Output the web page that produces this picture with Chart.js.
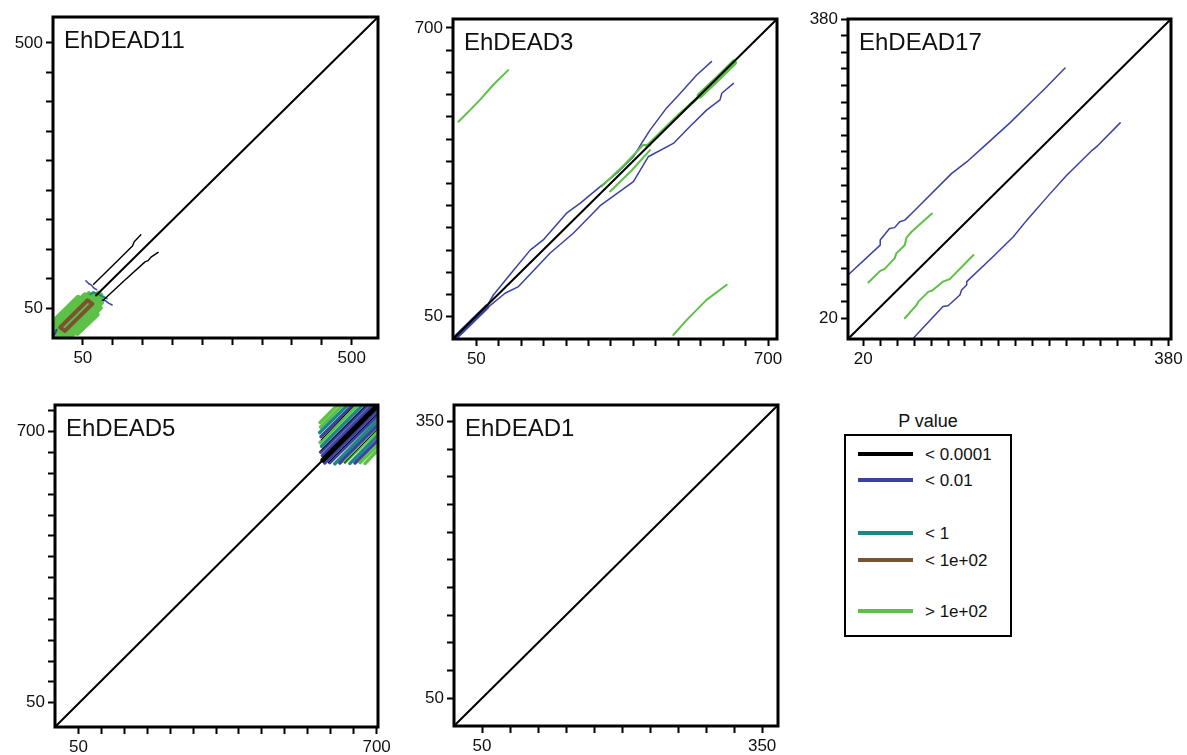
<!DOCTYPE html>
<html>
<head>
<meta charset="utf-8">
<script src="https://cdn.jsdelivr.net/npm/chart.js@4.4.1/dist/chart.umd.min.js"></script>
<style>
  body{margin:0;background:#fff;width:1187px;height:755px;position:relative;overflow:hidden;font-family:"Liberation Sans",Arial,sans-serif;color:#111}
  canvas{position:absolute}
  .abs{position:absolute;white-space:nowrap}
  #legTitle{left:844px;width:168px;top:412px;text-align:center;font-size:18px;line-height:18px}
  #legBox{left:844px;top:434px;width:168px;height:203px;border:2px solid #000;box-sizing:border-box}
  .sw{left:858px;width:55px;height:4px}
  .lt{left:925px;font-size:17px;line-height:17px}
</style>
</head>
<body>
<div id="legTitle" class="abs">P value</div>
<div id="legBox" class="abs"></div>
<script>
// P value classes and their colours
const pClasses=['< 0.0001','< 0.01','< 1','< 1e+02','> 1e+02'];
const pColors=['#000000','#3a42a0','#1b8884','#7a5431','#5dc148'];

const panelNames=['EhDEAD11','EhDEAD3','EhDEAD17','EhDEAD5','EhDEAD1'];
const xMin=[0,-2,2,-1,20], xMax=[544,720,383,703,367];
const yMin=[0,0,-5,-8,20], yMax=[544,720,380,764,368];
const xTicks=[
  [50,100,150,200,250,300,350,400,450,500],
  [50,100,150,200,250,300,350,400,450,500,550,600,650,700],
  [20,40,60,80,100,120,140,160,180,200,220,240,260,280,300,320,340,360,380],
  [50,100,150,200,250,300,350,400,450,500,550,600,650,700],
  [50,80,110,140,170,200,230,260,290,320,350]
];
const yTicks=[
  [50,100,150,200,250,300,350,400,450,500],
  [50,100,150,200,250,300,350,400,450,500,550,600,650,700],
  [20,40,60,80,100,120,140,160,180,200,220,240,260,280,300,320,340,360,380],
  [50,100,150,200,250,300,350,400,450,500,550,600,650,700,750],
  [50,80,110,140,170,200,230,260,290,320,350]
];
const tickLabels=[[50,500],[50,700],[20,380],[50,700],[50,350]];

// EhDEAD11
const d11Diag=[[72,72],[544,544]];
const d11ArmUp=[[68,91],[100,123],[133,156],[136,163],[147,175]];
const d11ArmLow=[[84,64],[120,98],[154,129],[159,131],[164,137],[176,145]];
const d11Green=[[2,29,42,69],[1,21,53,73],[3,17,60,75],[2,9,67,75],[3,3,76,76],[8,1,80,73],[15,1,82,67],[22,2,81,60],[30,3,79,51],[41,8,74,40]];
const d11Brown=[[12,18],[58,64],[66,58],[20,12],[12,18]];
const d11Teal=[[62,74],[68,77],[74,75],[82,71],[90,67]];
const d11Blue1=[[55,97],[60,92],[64,90],[68,85],[73,82]];
const d11Blue2=[[82,64],[88,63],[93,59],[99,56]];
const d11Blue3=[[0,3],[3,7],[6,14]];

// EhDEAD3
const d3Diag=[[-2,0],[720,720]];
const d3BlueCore=[[0,0],[73,72]];
const d3BlueUp=[[2,2],[73,73],[88,99],[121,140],[170,200],[199,223],[251,283],[281,305],[326,343],[363,373],[400,410],[418,440],[437,470],[474,520],[500,548],[541,594],[574,624]];
const d3BlueLow=[[2,0],[73,69],[114,103],[144,118],[214,193],[266,238],[326,300],[400,354],[433,410],[489,440],[526,478],[563,515],[593,538],[597,553],[623,575]];
const d3GreenTL=[[10,489],[36,515],[58,538],[88,572],[121,605]];
const d3GreenBR=[[489,9],[519,43],[563,88],[608,122]];
const d3GreenA=[[329,343],[380,392],[422,437],[437,436]];
const d3GreenB=[[348,332],[395,378],[437,425]];
const d3GreenDiag=[[430,434],[500,503],[548,547]];
const d3GreenBlob=[[548,548],[590,588],[624,622]];

// EhDEAD17
const d17Diag=[[2,-5],[383,380]];
const d17BlueUp=[[2,72],[40,108],[40,114],[51,128],[57,129],[63,136],[69,138],[77,146],[124,194],[142,208],[166,230],[193,255],[225,287],[235,297],[258,321]];
const d17BlueLow=[[79,-4],[114,34],[120,35],[134,48],[136,54],[142,60],[142,64],[173,94],[197,118],[213,138],[237,166],[260,192],[290,222],[297,228],[323,255]];
const d17GreenUp=[[26,63],[40,77],[45,79],[57,92],[59,98],[69,108],[71,117],[77,124],[101,146]];
const d17GreenLow=[[69,20],[83,36],[85,40],[97,52],[101,53],[114,64],[122,67],[150,96]];

// EhDEAD5
const d5Diag=[[-1,-8],[703,764]];
const d5Core=[[583,632],[703,764]];
const d5Strands=[[577,722,613,762],[578,711,624,762],[576,698,635,762],[579,688,646,762],[577,674,657,762],[580,665,668,762],[578,651,679,762],[582,643,690,762],
  [587,625,701,750],[598,626,701,738],[609,623,701,726],[620,625,701,714],[631,627,701,702],[642,624,701,690],[653,625,701,678],[664,626,701,666],[675,624,701,654]];
const d5StrandCls=[4,4,2,1,4,2,1,1,1,1,2,1,4,2,1,4,4];
const d5Thin=[[579,655,676,762],[594,625,701,742],[579,680,650,762],[630,625,701,705]];

// EhDEAD1
const d1Diag=[[20,20],[367,368]];

const segs=(list)=>list.map(s=>[[s[0],s[1]],[s[2],s[3]]]);

// traces listed bottom-to-top
const panelTraces=[
  [
    ...segs(d11Green).map(p=>({pts:p,cls:4,w:5})),
    {pts:d11Brown,cls:3,w:4},
    {pts:d11Teal,cls:2,w:2},
    {pts:d11Blue1,cls:1,w:1.5},{pts:d11Blue2,cls:1,w:1.5},{pts:d11Blue3,cls:1,w:2},
    {pts:d11ArmUp,cls:0,w:1.4},{pts:d11ArmLow,cls:0,w:1.4},
    {pts:d11Diag,cls:0,w:2}
  ],
  [
    {pts:d3BlueCore,cls:1,w:5},
    {pts:d3BlueUp,cls:1,w:1.5},{pts:d3BlueLow,cls:1,w:1.5},
    {pts:d3GreenTL,cls:4,w:2},{pts:d3GreenBR,cls:4,w:2},
    {pts:d3GreenA,cls:4,w:2},{pts:d3GreenB,cls:4,w:2},
    {pts:d3GreenDiag,cls:4,w:3},{pts:d3GreenBlob,cls:4,w:6},
    {pts:d3Diag,cls:0,w:2}
  ],
  [
    {pts:d17BlueUp,cls:1,w:1.5},{pts:d17BlueLow,cls:1,w:1.5},
    {pts:d17GreenUp,cls:4,w:2},{pts:d17GreenLow,cls:4,w:2},
    {pts:d17Diag,cls:0,w:2}
  ],
  [
    ...segs(d5Strands).map((p,k)=>({pts:p,cls:d5StrandCls[k],w:3.5})),
    ...segs(d5Thin).map(p=>({pts:p,cls:0,w:1})),
    {pts:d5Diag,cls:0,w:2},
    {pts:d5Core,cls:0,w:5}
  ],
  [
    {pts:d1Diag,cls:0,w:2}
  ]
];

// frame boxes (left, top, right, bottom) in page pixels
const frames=[[53,17,378,338],[453,19,777,339],[848,19,1171,339],[55,405,378,727],[454,405,778,726]];
const PAD_T=14, PAD_R=18, Y_W=50, X_H=32;
const FONT='"Liberation Sans", Arial, sans-serif';

const framePlugin={
  id:'frame',
  afterDraw(chart,args,opts){
    const {ctx,chartArea:a}=chart;
    ctx.save();
    ctx.lineWidth=3; ctx.strokeStyle='#000';
    ctx.strokeRect(a.left,a.top,a.right-a.left,a.bottom-a.top);
    ctx.font='24px '+FONT; ctx.fillStyle='#111'; ctx.textBaseline='alphabetic';
    ctx.fillText(opts.title,a.left+11,a.top+31);
    ctx.restore();
  }
};

function axisOpts(min,max,vals,labels,isX){
  return {
    type:'linear', min, max, position:isX?'bottom':'left',
    afterBuildTicks:ax=>{ ax.ticks=vals.map(v=>({value:v})); },
    afterFit:ax=>{ if(isX) ax.height=X_H; else ax.width=Y_W; },
    ticks:{autoSkip:false,maxRotation:0,padding:3,color:'#111',font:{family:FONT,size:17},
      callback:v=>labels.includes(v)?String(v):''},
    grid:{drawOnChartArea:false,drawTicks:true,tickLength:7,tickWidth:2,tickColor:'#000'},
    border:{display:false}
  };
}

function makePanel(i){
  const f=frames[i];
  const W=f[2]-f[0]+Y_W+PAD_R, H=f[3]-f[1]+PAD_T+X_H;
  const cv=document.createElement('canvas');
  cv.width=W; cv.height=H;
  cv.style.left=(f[0]-Y_W)+'px'; cv.style.top=(f[1]-PAD_T)+'px';
  cv.style.width=W+'px'; cv.style.height=H+'px';
  document.body.appendChild(cv);
  const tr=panelTraces[i];
  const datasets=tr.map((t,k)=>({
    data:t.pts.map(p=>({x:p[0],y:p[1]})),
    showLine:true,pointRadius:0,borderColor:pColors[t.cls],borderWidth:t.w,fill:false,
    borderCapStyle:'round',borderJoinStyle:'round',order:tr.length-k
  }));
  new Chart(cv,{
    type:'scatter',
    data:{datasets},
    options:{
      responsive:false,animation:false,devicePixelRatio:1,
      layout:{padding:{top:PAD_T,right:PAD_R,left:0,bottom:0}},
      plugins:{legend:{display:false},tooltip:{enabled:false},frame:{title:panelNames[i]}},
      scales:{
        x:axisOpts(xMin[i],xMax[i],xTicks[i],tickLabels[i],true),
        y:axisOpts(yMin[i],yMax[i],yTicks[i],tickLabels[i],false)
      }
    },
    plugins:[framePlugin]
  });
}

function buildLegend(){
  const rowY=[454,480,533,560,611];
  pClasses.forEach((c,k)=>{
    const sw=document.createElement('div');
    sw.className='abs sw'; sw.style.top=(rowY[k]-2)+'px'; sw.style.background=pColors[k];
    document.body.appendChild(sw);
    const t=document.createElement('div');
    t.className='abs lt'; t.style.top=(rowY[k]-8)+'px'; t.textContent=c;
    document.body.appendChild(t);
  });
}

document.addEventListener('DOMContentLoaded',()=>{
  panelNames.forEach((n,i)=>makePanel(i));
  buildLegend();
});
</script>
</body>
</html>
